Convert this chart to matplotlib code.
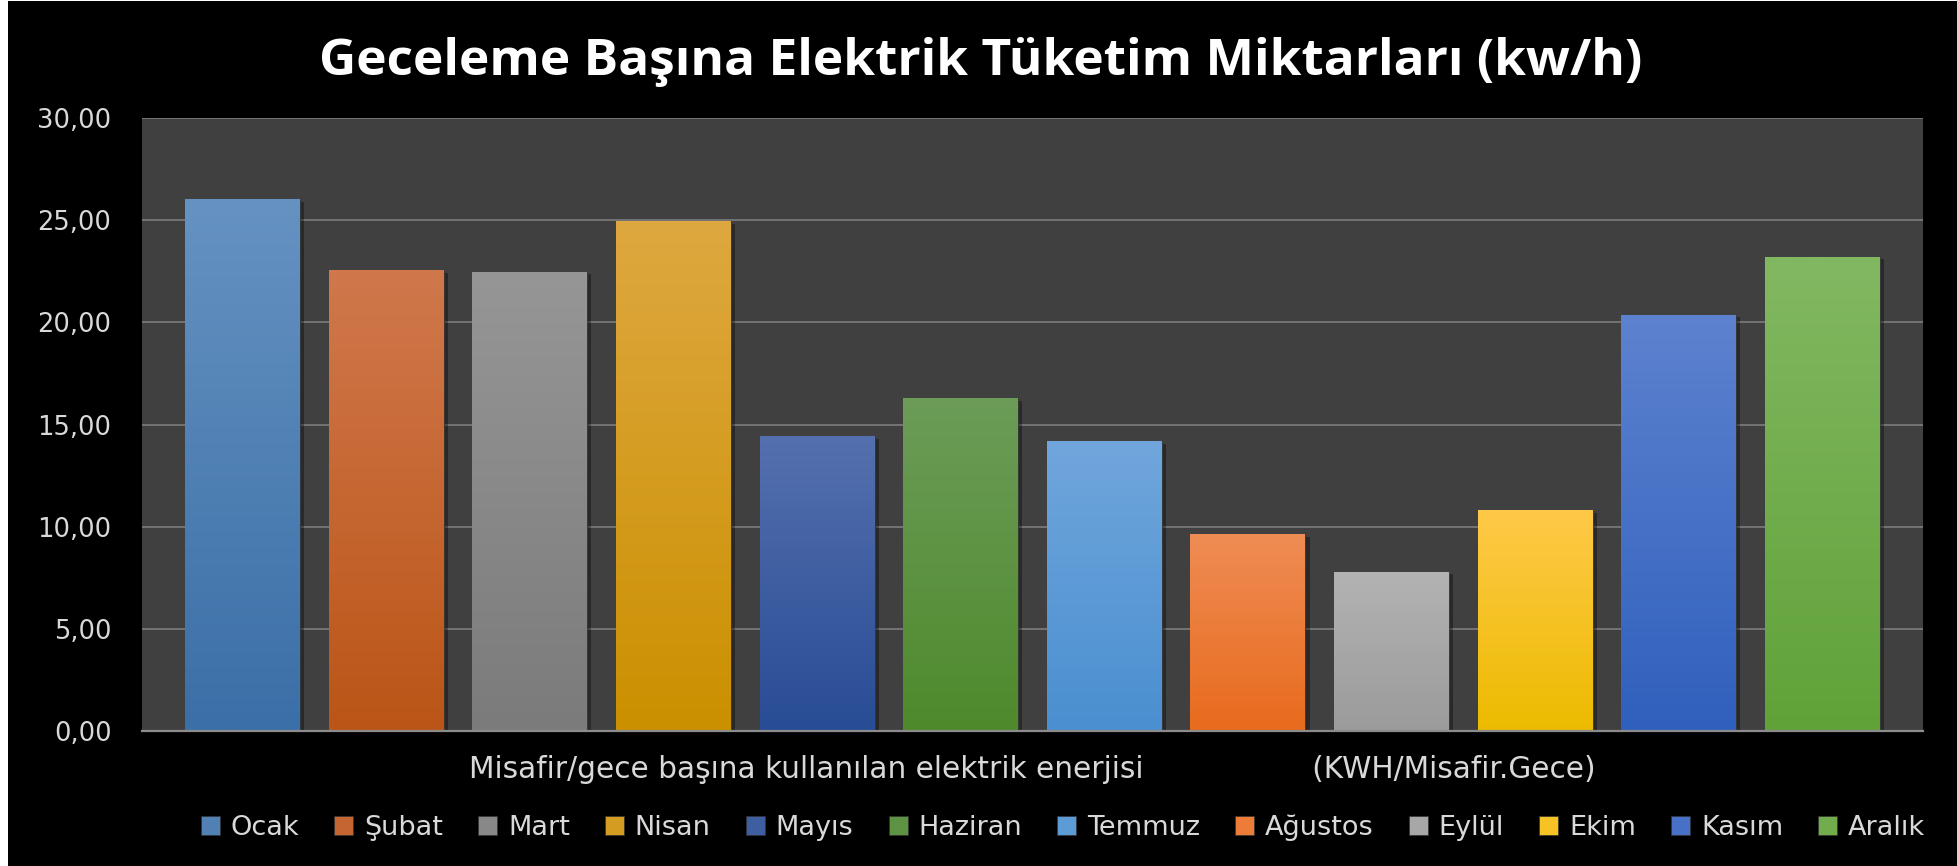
import numpy as np
import matplotlib
matplotlib.use("Agg")
from matplotlib import pyplot as plt
from matplotlib import colors as mcolors
from matplotlib.patches import Patch, Rectangle
import matplotlib.patheffects as pe

# Data
months = ["Ocak", "Şubat", "Mart", "Nisan", "Mayıs", "Haziran",
          "Temmuz", "Ağustos", "Eylül", "Ekim", "Kasım", "Aralık"]
values = [26.04, 22.55, 22.48, 24.96, 14.44, 16.28,
          14.18, 9.64, 7.80, 10.80, 20.38, 23.22]
yticks = [0, 5, 10, 15, 20, 25, 30]
ytick_labels = ["0,00", "5,00", "10,00", "15,00", "20,00", "25,00", "30,00"]
category = "Misafir/gece başına kullanılan elektrik enerjisi" + " " * 18 + "(KWH/Misafir.Gece)"
title = "Geceleme Başına Elektrik Tüketim Miktarları (kw/h)"

# top / bottom colour of each bar's gradient
top_colors = ["#6592c1", "#d0784c", "#969696", "#dea840", "#5570ae", "#6c9c58",
              "#70a6dc", "#ef8c54", "#b3b3b3", "#ffc948", "#5d82cf", "#82b862"]
bottom_colors = ["#3b6fa7", "#bb5517", "#7b7b7b", "#cb9000", "#284c95", "#4e8a2c",
                 "#4a8fd0", "#e86b1d", "#9b9b9b", "#ecbb00", "#3060bd", "#60a238"]

text_col = "#d9d9d9"

fig = plt.figure(figsize=(19.57, 8.66), dpi=100, facecolor="white")
# black chart area (thin white strip on the left as in the screenshot)
fig.patches.append(Rectangle((8 / 1957, 0), 1 - 8 / 1957, 1 - 1 / 866,
                             transform=fig.transFigure, facecolor="black",
                             edgecolor="none", zorder=-10))

ax = fig.add_axes([142 / 1957, 135 / 866, (1923 - 142) / 1957, (731 - 118) / 866])
ax.set_facecolor("#404040")

x = np.arange(len(months))
width = 0.8
mids = [mcolors.to_hex((np.array(mcolors.to_rgb(t)) + np.array(mcolors.to_rgb(b))) / 2)
        for t, b in zip(top_colors, bottom_colors)]

bars = ax.bar(x, values, width=width, color=mids, edgecolor="#333333", linewidth=0.6,
              zorder=3)
for bar, tc, bc in zip(bars, top_colors, bottom_colors):
    bar.set_path_effects([pe.SimplePatchShadow(offset=(3, -2), shadow_rgbFace="black", alpha=0.35),
                          pe.Normal()])
    grad = np.linspace(0, 1, 128)[:, None, None]
    c1 = np.array(mcolors.to_rgb(tc))
    c2 = np.array(mcolors.to_rgb(bc))
    img = c1 * (1 - grad) + c2 * grad
    x0 = bar.get_x()
    im = ax.imshow(img, extent=[x0, x0 + bar.get_width(), 0, bar.get_height()],
                   aspect="auto", origin="upper", zorder=3.5, interpolation="bilinear")
    im.set_clip_path(bar)

ax.set_xlim(-0.7, len(months) - 0.3)
ax.set_ylim(0, 30)

ax.set_yticks(yticks)
ax.set_yticklabels(ytick_labels)
ax.set_xticks([(len(months) - 1) / 2])
ax.set_xticklabels([category])
ax.tick_params(axis="both", length=0, colors=text_col, labelsize=18.5)
ax.tick_params(axis="y", pad=22)
ax.tick_params(axis="x", pad=17, labelsize=21.3)

ax.yaxis.grid(True, color="#747474", linewidth=1.4, zorder=1)
ax.set_axisbelow(True)
for side in ["top", "right", "left"]:
    ax.spines[side].set_visible(False)
ax.spines["bottom"].set_color("#8c8c8c")
ax.spines["bottom"].set_linewidth(1.6)
ax.spines["bottom"].set_zorder(4)

fig.text(981 / 1957, 1 - 62 / 866, title, ha="center", va="center", color="white",
         fontsize=37, fontweight="bold", family=["Open Sans", "DejaVu Sans"])

handles = [Patch(facecolor=m, edgecolor="#333333", linewidth=0.5) for m in mids]
leg = fig.legend(handles, months, loc="center", ncol=12,
                 bbox_to_anchor=(1063 / 1957, 38 / 866), frameon=False,
                 fontsize=19.5, handlelength=0.7, handleheight=0.7,
                 handletextpad=0.4, columnspacing=1.3)
for t in leg.get_texts():
    t.set_color(text_col)

fig.savefig("out.png", dpi=100, facecolor=fig.get_facecolor())
